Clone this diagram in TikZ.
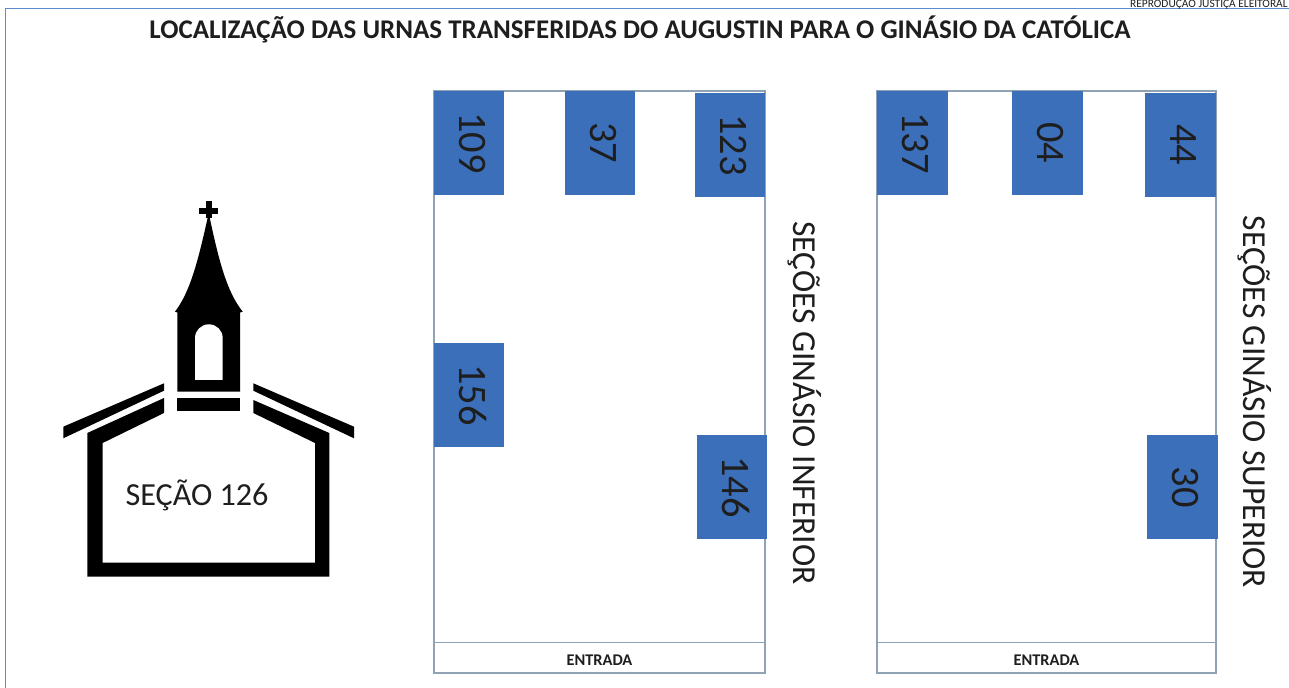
\documentclass[tikz,border=0pt]{standalone}
\usepackage{fontspec}
\setmainfont{Carlito}
\usepackage{xcolor}
\definecolor{urnablue}{HTML}{3B6FBA}
\definecolor{salaline}{HTML}{8FA3B5}
\definecolor{framecol}{HTML}{5B8BD0}
\definecolor{textcol}{HTML}{1E1E1E}

\tikzset{
    urna/.style={draw=none, fill=urnablue, rotate=-90, minimum width=2.08cm, minimum height=1.42cm, inner sep=0pt, text height=14.5pt, text depth=3.4pt, font=\fontsize{23}{23}\selectfont, text=textcol},
    sala/.style={draw=salaline, line width=0.7pt, minimum height=11.64cm, inner sep=0pt},
    entrada/.style={draw=salaline, line width=0.7pt, minimum height=0.62cm, inner sep=0pt, text height=9pt, text depth=0pt, font=\fontsize{9.3}{9.3}\selectfont\bfseries, text=textcol},
    lado/.style={rotate=-90, inner sep=0pt, font=\fontsize{19.1}{19.1}\selectfont, text=textcol}
}

\begin{document}
\begin{tikzpicture}[x=0.02cm, y=-0.02cm]
    \useasboundingbox (0,0) rectangle (1289,688);
    \fill[white] (0,0) rectangle (1289,688);

    % frame
    \draw[framecol, line width=0.7pt] (5.5,688) -- (5.5,8.5) -- (1289,8.5);

    \node[inner sep=0pt, anchor=base east, font=\fontsize{6.5}{6.5}\selectfont, text=textcol] (credito) at (1288,8) {REPRODUÇÃO JUSTIÇA ELEITORAL};
    \node[inner sep=0pt, font=\fontsize{15.35}{15.35}\selectfont\bfseries, text=textcol] (titulo) at (640,29) {LOCALIZAÇÃO DAS URNAS TRANSFERIDAS DO AUGUSTIN PARA O GINÁSIO DA CATÓLICA};

    % church
    \fill[black] (87.3,433) -- (164,398) -- (164,413) -- (102.7,443) -- (102.7,562.7) -- (315,562.7) -- (315,443) -- (253.3,413) -- (253.3,400) -- (329.3,433) -- (329.3,576.7) -- (87.3,576.7) -- cycle;
    \fill[black] (63.3,426.7) -- (164,383.3) -- (164,390.7) -- (63.3,438.3) -- cycle;
    \fill[black] (253.3,383.3) -- (354,426.7) -- (354,438.3) -- (253.3,390.7) -- cycle;
    \fill[black] (177.3,398.3) rectangle (240,410.7);
    \fill[black] (177.3,391.7) -- (177.3,312.5) -- (175,311.7) .. controls (190,292) and (198,262) .. (208.7,213) .. controls (219,262) and (227,292) .. (242.7,311.7) -- (240,312.5) -- (240,391.7) -- cycle;
    \fill[black] (206,200.7) rectangle (211.7,218);
    \fill[black] (199.3,208.3) rectangle (218,213.7);
    \fill[white] (195,380) -- (195,338) arc[start angle=180, end angle=360, x radius=13.85, y radius=13.7] -- (222.7,380) -- cycle;
    \node[inner sep=0pt, font=\fontsize{18.3}{18.3}\selectfont, text=textcol] (secao) at (197,495) {SEÇÃO 126};

    % lower gym
    \node[sala, minimum width=6.62cm] (salaInf) at (599.5,382) {};
    \node[entrada, minimum width=6.62cm] (entInf) at (599.5,658) {ENTRADA};
    \foreach \x/\y/\num in {469/143/109, 600/143/37, 730/145/123, 469/395/156, 732/487/146} {
        \node[urna] (inf\num) at (\x,\y) {\num};
    }
    \node[lado] (ladoInf) at (805,403) {SEÇÕES GINÁSIO INFERIOR};

    % upper gym
    \node[sala, minimum width=6.78cm] (salaSup) at (1046.5,382) {};
    \node[entrada, minimum width=6.78cm] (entSup) at (1046.5,658) {ENTRADA};
    \foreach \x/\y/\num in {912.5/143/137, 1047/143/04, 1180.5/145/44, 1182/487/30} {
        \node[urna] (sup\num) at (\x,\y) {\num};
    }
    \node[lado] (ladoSup) at (1255,402) {SEÇÕES GINÁSIO SUPERIOR};
\end{tikzpicture}
\end{document}
